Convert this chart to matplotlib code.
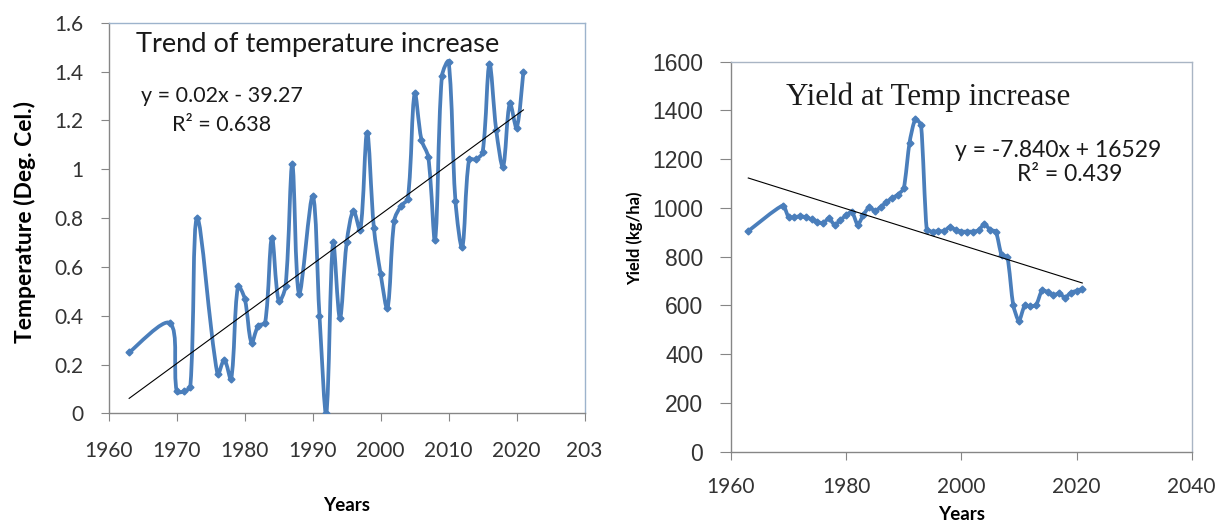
import numpy as np
import matplotlib
matplotlib.use('Agg')
import matplotlib.pyplot as plt
from matplotlib.path import Path
from matplotlib.patches import PathPatch
from matplotlib.ticker import FuncFormatter

# ---- data ----
temp_years = [1963, 1969, 1970, 1971, 1972, 1973, 1976, 1977, 1978, 1979,
              1980, 1981, 1982, 1983, 1984, 1985, 1986, 1987, 1988, 1990,
              1991, 1992, 1993, 1994, 1995, 1996, 1997, 1998, 1999, 2000,
              2001, 2002, 2003, 2004, 2005, 2006, 2007, 2008, 2009, 2010,
              2011, 2012, 2013, 2014, 2015, 2016, 2017, 2018, 2019, 2020,
              2021]
temp_vals = [0.25, 0.37, 0.09, 0.09, 0.11, 0.80, 0.16, 0.22, 0.14, 0.52,
             0.47, 0.29, 0.36, 0.37, 0.72, 0.46, 0.52, 1.02, 0.49, 0.89,
             0.40, 0.00, 0.70, 0.39, 0.70, 0.83, 0.75, 1.15, 0.76, 0.57,
             0.43, 0.79, 0.85, 0.88, 1.31, 1.12, 1.05, 0.71, 1.38, 1.44,
             0.87, 0.68, 1.04, 1.04, 1.07, 1.43, 1.16, 1.01, 1.27, 1.17,
             1.40]

yield_years = [1963, 1969, 1970, 1971, 1972, 1973, 1974, 1975, 1976, 1977,
               1978, 1979, 1980, 1981, 1982, 1983, 1984, 1985, 1986, 1987,
               1988, 1989, 1990, 1991, 1992, 1993, 1994, 1995, 1996, 1997,
               1998, 1999, 2000, 2001, 2002, 2003, 2004, 2005, 2006, 2007,
               2008, 2009, 2010, 2011, 2012, 2013, 2014, 2015, 2016, 2017,
               2018, 2019, 2020, 2021]
yield_vals = [905, 1010, 962, 962, 966, 962, 953, 943, 937, 958,
              930, 950, 970, 985, 930, 972, 1003, 988, 1003, 1025,
              1040, 1055, 1080, 1268, 1365, 1340, 909, 903, 905, 905,
              922, 910, 903, 903, 903, 908, 935, 910, 903, 805,
              797, 602, 535, 600, 596, 602, 662, 655, 642, 650,
              632, 652, 660, 668]

temp_yticks = [0, 0.2, 0.4, 0.6, 0.8, 1, 1.2, 1.4, 1.6]
temp_xticks = [1960, 1970, 1980, 1990, 2000, 2010, 2020, 2030]
temp_xticklabels = ['1960', '1970', '1980', '1990', '2000', '2010', '2020', '203']
yield_yticks = [0, 200, 400, 600, 800, 1000, 1200, 1400, 1600]
yield_xticks = [1960, 1980, 2000, 2020, 2040]

BLUE = '#4a7ebb'
AXC = '#868686'
CAL = ['Lato', 'DejaVu Sans']


def smooth_line(ax, xs, ys, t=1 / 3, **kw):
    # Excel-like smoothed line, built in screen space with segment-length weighting
    p = ax.transData.transform(np.column_stack([xs, ys]).astype(float))
    n = len(p)
    L = np.hypot(*np.diff(p, axis=0).T)
    verts = [p[0]]
    codes = [Path.MOVETO]
    for i in range(n - 1):
        if i > 0:
            c1 = p[i] + (p[i + 1] - p[i - 1]) * t * L[i] / (L[i - 1] + L[i])
        else:
            c1 = p[i] + (p[i + 1] - p[i]) * t / 2
        if i + 2 < n:
            c2 = p[i + 1] - (p[i + 2] - p[i]) * t * L[i] / (L[i] + L[i + 1])
        else:
            c2 = p[i + 1] - (p[i + 1] - p[i]) * t / 2
        verts += [c1, c2, p[i + 1]]
        codes += [Path.CURVE4] * 3
    verts = ax.transData.inverted().transform(np.array(verts))
    ax.add_patch(PathPatch(Path(verts, codes), fill=False, **kw))


def style_axes(ax, frame_col):
    for s in ['left', 'bottom']:
        ax.spines[s].set_color(AXC)
        ax.spines[s].set_linewidth(1.0)
    for s in ['top', 'right']:
        ax.spines[s].set_color(frame_col)
        ax.spines[s].set_linewidth(1.0)
    ax.tick_params(direction='out', length=6, width=0.8, color=AXC,
                   top=False, right=False)


fig = plt.figure(figsize=(12.22, 5.22), dpi=100)

# ---------------- left: temperature ----------------
ax1 = fig.add_axes([0.0890, 0.2079, 0.3894, 0.7487])
ax1.set_xlim(1960, 2030)
ax1.set_ylim(0, 1.6)
smooth_line(ax1, temp_years, temp_vals, ec=BLUE, lw=2.7,
            joinstyle='round', capstyle='round', zorder=3)
ax1.plot(temp_years, temp_vals, 'D', ms=3.5, color=BLUE, zorder=4)
k, b = np.polyfit(temp_years, temp_vals, 1)
tx = np.array([temp_years[0], temp_years[-1]])
ax1.plot(tx, k * tx + b, color='black', lw=0.8, zorder=5)

ax1.set_xticks(temp_xticks)
ax1.set_xticklabels(temp_xticklabels)
ax1.set_yticks(temp_yticks)
ax1.yaxis.set_major_formatter(FuncFormatter(lambda v, p: '%g' % v))
style_axes(ax1, '#9db3cc')
for lab in ax1.get_xticklabels() + ax1.get_yticklabels():
    lab.set_fontfamily(CAL)
    lab.set_fontsize(15)
    lab.set_color('#333333')
ax1.tick_params(axis='x', pad=14)
ax1.tick_params(axis='y', pad=12)

ax1.text(0.058, 0.945, 'Trend of temperature increase', transform=ax1.transAxes,
         family=CAL, fontsize=19.6, va='center', ha='left', color='#1a1a1a')
ax1.text(0.238, 0.813, 'y = 0.02x - 39.27', transform=ax1.transAxes,
         family=CAL, fontsize=15.5, va='center', ha='center', color='#1a1a1a')
ax1.text(0.238, 0.737, 'R² = 0.638', transform=ax1.transAxes,
         family=CAL, fontsize=15.5, va='center', ha='center', color='#1a1a1a')
ax1.set_ylabel('Temperature (Deg. Cel.)', family=CAL, fontsize=16.5,
               fontweight='bold')
ax1.yaxis.set_label_coords(-0.152, 0.491)
ax1.set_xlabel('Years', family=CAL, fontsize=13.5, fontweight='bold', labelpad=26)

# ---------------- right: yield ----------------
ax2 = fig.add_axes([0.5982, 0.1347, 0.3770, 0.7471])
ax2.set_xlim(1960, 2040)
ax2.set_ylim(0, 1600)
smooth_line(ax2, yield_years, yield_vals, t=0.2, ec=BLUE, lw=2.7,
            joinstyle='round', capstyle='round', zorder=3)
ax2.plot(yield_years, yield_vals, 'D', ms=3.5, color=BLUE, zorder=4)
k2, b2 = np.polyfit(yield_years, yield_vals, 1)
yx = np.array([yield_years[0], yield_years[-1]])
ax2.plot(yx, k2 * yx + b2, color='black', lw=0.8, zorder=5)

ax2.set_xticks(yield_xticks)
ax2.set_yticks(yield_yticks)
style_axes(ax2, '#a9b5c4')
ax2.tick_params(axis='y', length=8)
for lab in ax2.get_xticklabels():
    lab.set_fontfamily(CAL)
    lab.set_fontsize(15)
    lab.set_color('#333333')
for lab in ax2.get_yticklabels():
    lab.set_fontfamily(['Liberation Sans', 'DejaVu Sans'])
    lab.set_fontsize(16.5)
    lab.set_color('#333333')
ax2.tick_params(axis='x', pad=12)
ax2.tick_params(axis='y', pad=12)

ax2.text(0.12, 0.910, 'Yield at Temp increase', transform=ax2.transAxes,
         family=['Liberation Serif', 'DejaVu Serif'], fontsize=22.3, va='center',
         ha='left', color='#1a1a1a')
ax2.text(0.71, 0.773, 'y = -7.840x + 16529', transform=ax2.transAxes,
         family=CAL, fontsize=16.5, va='center', ha='center', color='#1a1a1a')
ax2.text(0.735, 0.712, 'R² = 0.439', transform=ax2.transAxes,
         family=CAL, fontsize=16.5, va='center', ha='center', color='#1a1a1a')
ax2.set_ylabel('Yield (kg/ha)', family=CAL, fontsize=12, fontweight='bold')
ax2.yaxis.set_label_coords(-0.19, 0.548)
ax2.set_xlabel('Years', family=CAL, fontsize=13.5, fontweight='bold', labelpad=7)

fig.savefig('out.png', dpi=100)
